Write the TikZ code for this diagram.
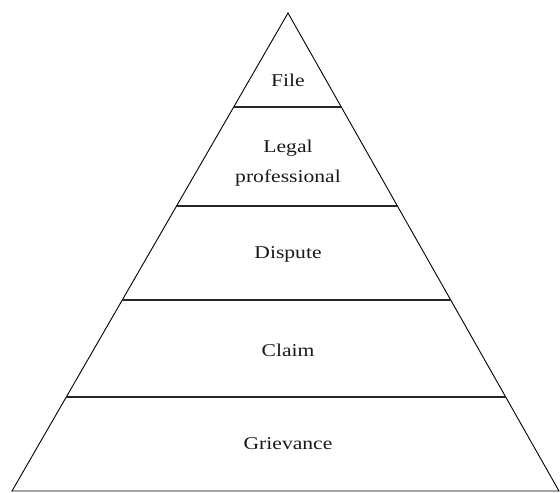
\documentclass[tikz,border=0pt]{standalone}
\usepackage{fontspec}
\setmainfont{Liberation Serif}[FakeStretch=1.2]
\usetikzlibrary{calc}
\begin{document}
\begin{tikzpicture}[x=1pt,y=-1pt,
  edge/.style={draw=black,line width=0.9pt,line join=miter},
  band/.style={draw=black!85,line width=1.1pt},
  lbl/.style={anchor=base,inner sep=0pt,font=\fontsize{18}{30}\selectfont,text=black!90,align=center}]
\useasboundingbox (0,0) rectangle (560,493);
\coordinate (apex) at (288,13);
\coordinate (bl) at (12,491);
\coordinate (br) at (559,491);
\draw[edge] (apex) -- (bl) -- (br) -- cycle;
\foreach \t/\n in {0.1967/a,0.4038/b,0.6004/c,0.8033/d}{
  \coordinate (L\n) at ($(apex)!\t!(bl)$);
  \coordinate (R\n) at ($(apex)!\t!(br)$);
  \draw[band] (L\n) -- (R\n);
}
\node[lbl] (file) at (288,86) {File};
\node[lbl] (legal) at (288,152) {Legal};
\node[lbl] (prof) at (288,182) {professional};
\node[lbl] (dispute) at (288,258) {Dispute};
\node[lbl] (claim) at (288,356) {Claim};
\node[lbl] (griev) at (288,449) {Grievance};
\end{tikzpicture}
\end{document}
